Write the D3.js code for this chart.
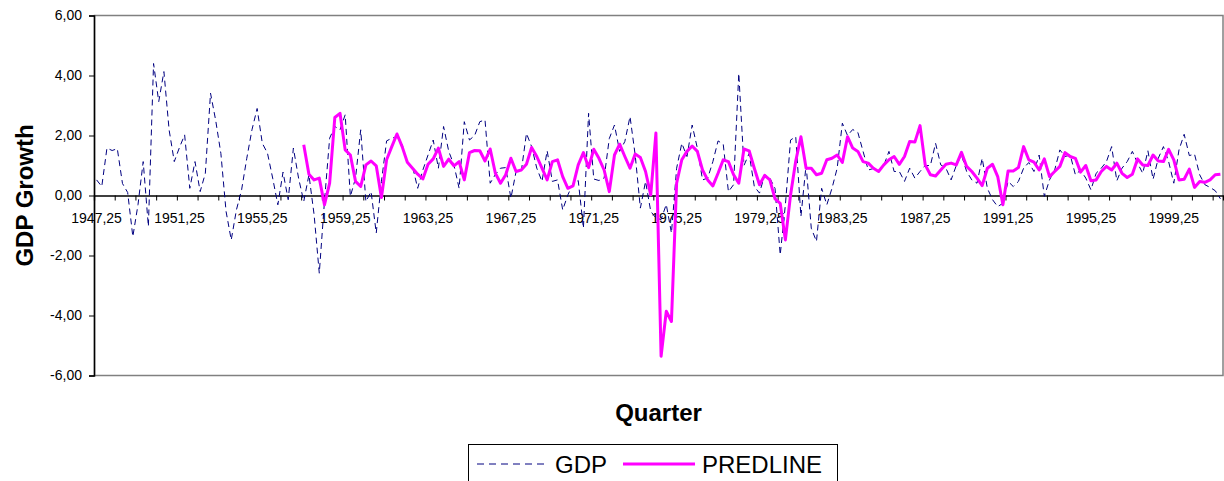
<!DOCTYPE html>
<html><head><meta charset="utf-8">
<script src="https://cdn.jsdelivr.net/npm/d3@7"></script>
<style>
body{margin:0;background:#fff;}
svg text{font-family:Arial,"Liberation Sans",sans-serif;}
</style>
</head><body>
<svg id="chart" width="1224" height="481"></svg>
<script>
// ---------------- data ----------------
const firstQuarter = 1947.25;
const quarterCount = 218;
const quarters = d3.range(quarterCount).map(i => (firstQuarter + i * 0.25).toFixed(2).replace('.', ','));
const xTickLabels = ["1947,25","1951,25","1955,25","1959,25","1963,25","1967,25","1971,25",
                     "1975,25","1979,25","1983,25","1987,25","1991,25","1995,25","1999,25"];
const yTickValues = [-6, -4, -2, 0, 2, 4, 6];
const seriesNames = ["GDP", "PREDLINE"];
const xTitle = "Quarter";
const yTitle = "GDP Growth";

const gdp = [
  0.52, 0.30, 1.58, 1.50, 1.56, 0.40, 0.10,-1.37,-0.30, 1.13,
 -1.03, 4.40, 3.13, 4.13, 2.19, 1.13, 1.60, 2.02, 0.24, 1.13,
  0.13, 0.74, 3.41, 2.50, 1.40,-0.53,-1.48,-0.48, 0.19, 1.24,
  2.19, 2.90, 1.74, 1.41, 0.58,-0.31, 0.78,-0.14, 1.58, 0.58,
 -0.20, 0.69,-0.64,-2.59,-0.20, 1.91, 2.30, 2.19, 2.69,-0.03,
  0.58, 2.19,-0.20, 0.13,-1.25, 0.47, 1.82, 1.91, 1.96, 1.69,
  1.11, 0.97, 0.24, 0.85, 1.35, 1.85, 0.91, 2.30, 1.47, 1.02,
  0.24, 2.46, 1.85, 2.00, 2.46, 2.52, 0.41, 0.70, 0.91, 0.93,
 -0.09, 0.80, 0.80, 2.07, 1.63, 0.91, 0.47, 1.49, 0.47, 0.52,
 -0.48, 0.02, 0.40, 0.50,-1.09, 2.74, 0.55, 0.50, 0.58, 1.90,
  2.35, 1.47, 1.80, 2.63, 1.35,-0.42, 0.47,-0.53,-0.75,-0.80,
 -0.30,-1.25, 0.91, 1.74, 1.30, 2.35, 1.58, 0.52, 0.58, 1.13,
  1.82, 1.71, 0.13, 0.36, 4.07, 1.00, 1.40, 0.30, 0.08, 0.69,
  0.58, 0.24,-1.98,-0.31, 1.85, 1.96,-0.70, 1.02,-1.09,-1.53,
  0.24,-0.31, 0.24, 0.91, 2.41, 2.00, 2.20, 2.10, 1.47, 0.85,
  0.90, 0.80, 1.00, 1.47, 0.80, 0.80, 0.47, 0.91, 0.58, 0.80,
  1.00, 1.00, 1.74, 1.02, 0.91, 0.52, 1.00, 1.35, 0.80, 0.52,
  0.41, 1.24, 0.24,-0.14,-0.37,-0.26, 0.47, 0.30, 0.47, 0.91,
  1.10, 0.80, 1.35,-0.03, 0.52, 0.85, 1.52, 1.30, 1.35, 0.69,
  0.85, 0.58, 0.19, 0.74, 0.91, 1.13, 1.63, 0.49, 0.91, 1.13,
  1.47, 1.08, 0.74, 1.49, 0.54, 1.24, 1.63, 1.13, 0.41, 1.52,
  2.04, 1.33, 1.38, 0.69, 0.36, 0.27, 0.16,-0.11
];

const predStartQuarter = "1957,25";
const predline = [
  1.69, 0.71, 0.52, 0.58,-0.31, 0.41, 2.60, 2.74, 1.52, 1.35,
  0.47, 0.30, 1.02, 1.15, 0.99,-0.07, 1.19, 1.63, 2.05, 1.63,
  1.11, 0.91, 0.71, 0.55, 1.04, 1.22, 1.58, 0.97, 1.21, 0.99,
  1.13, 0.52, 1.43, 1.50, 1.49, 1.15, 1.55, 0.74, 0.41, 0.69,
  1.24, 0.80, 0.85, 1.04, 1.60, 1.30, 0.91, 0.52, 1.13, 1.19,
  0.63, 0.24, 0.32, 1.02, 1.43, 0.93, 1.54, 1.24, 0.85, 0.13,
  1.35, 1.71, 1.30, 0.91, 1.38, 1.27, 0.80, 0.02, 2.08,-5.36,
 -3.86,-4.20, 0.41, 1.19, 1.47, 1.65, 1.47, 0.85, 0.52, 0.32,
  0.74, 1.19, 1.13, 0.69, 0.41, 1.55, 1.49, 0.91, 0.36, 0.67,
  0.52,-0.11,-0.26,-1.48, 0.02, 1.15, 1.96, 0.91, 0.91, 0.69,
  0.74, 1.19, 1.24, 1.35, 1.10, 1.96, 1.58, 1.47, 1.13, 1.08,
  0.91, 0.80, 1.02, 1.19, 1.30, 1.04, 1.30, 1.80, 1.78, 2.33,
  1.02, 0.69, 0.65, 0.85, 1.04, 1.08, 1.02, 1.44, 0.97, 0.80,
  0.58, 0.33, 0.91, 1.04, 0.63,-0.31, 0.82, 0.82, 0.93, 1.63,
  1.19, 1.11, 0.85, 1.22, 0.63, 0.80, 0.97, 1.43, 1.30, 1.24,
  0.78, 1.00, 0.49, 0.52, 0.80, 0.97, 0.85, 1.08, 0.74, 0.60,
  0.71, 1.22, 1.02, 1.00, 1.35, 1.15, 1.13, 1.54, 1.19, 0.52,
  0.54, 0.88, 0.27, 0.47, 0.44, 0.52, 0.69, 0.71
];

// ---------------- chart ----------------
const svg = d3.select("#chart");
const plot = {left: 94, right: 1223, top: 15.5, bottom: 375.5};

const x = d3.scaleBand().domain(quarters).range([plot.left, plot.right]).padding(0);
const xBound = d3.scaleLinear().domain([0, quarters.length]).range([plot.left, plot.right]);
const y = d3.scaleLinear().domain([-6, 6]).range([plot.bottom, plot.top]);
const cx = q => x(q) + x.bandwidth() / 2;

// plot area border
svg.append("rect")
  .attr("x", plot.left + 0.5).attr("y", plot.top)
  .attr("width", plot.right - plot.left - 0.5).attr("height", plot.bottom - plot.top)
  .attr("fill", "none").attr("stroke", "#808080").attr("stroke-width", 1.5);

// y axis
const yAxis = svg.append("g").attr("transform", `translate(${plot.left},0)`)
  .call(d3.axisLeft(y).tickValues(yTickValues).tickSize(5).tickPadding(7)
    .tickFormat(d => d.toFixed(2).replace('.', ',')));
yAxis.select(".domain").attr("stroke", "#000").attr("stroke-width", 1.5);
yAxis.selectAll(".tick line").attr("stroke", "#000");
yAxis.selectAll("text").attr("font-size", 14).attr("fill", "#000")
  .style("font-family", "Arial, 'Liberation Sans', sans-serif");

// x axis (crosses at 0)
const x0 = y(0);
const xAxisTicks = svg.append("g").attr("transform", `translate(0,${x0})`)
  .call(d3.axisBottom(xBound).tickValues(d3.range(0, quarters.length + 1, 4)).tickSize(5).tickFormat(""));
xAxisTicks.select(".domain").attr("stroke", "#000").attr("stroke-width", 1.3);
xAxisTicks.selectAll(".tick line").attr("stroke", "#000");

const xAxisLabels = svg.append("g").attr("transform", `translate(0,${x0})`)
  .call(d3.axisBottom(x).tickValues(xTickLabels).tickSize(0).tickPadding(0));
xAxisLabels.select(".domain").remove();
xAxisLabels.selectAll("text").attr("font-size", 14).attr("fill", "#000")
  .attr("y", 27).attr("dy", 0)
  .style("font-family", "Arial, 'Liberation Sans', sans-serif");

// series
const gdpLine = d3.line()
  .x((d, i) => cx(quarters[i]))
  .y(d => y(d));
svg.append("path").datum(gdp)
  .attr("d", gdpLine)
  .attr("fill", "none").attr("stroke", "#000080").attr("stroke-width", 1)
  .attr("stroke-dasharray", "6,4");

const predOffset = quarters.indexOf(predStartQuarter);
const predLineGen = d3.line()
  .x((d, i) => cx(quarters[i + predOffset]))
  .y(d => y(d));
svg.append("path").datum(predline)
  .attr("d", predLineGen)
  .attr("fill", "none").attr("stroke", "#FF00FF").attr("stroke-width", 3)
  .attr("stroke-linejoin", "round");

// axis titles
svg.append("text")
  .attr("x", (plot.left + plot.right) / 2).attr("y", 421)
  .attr("text-anchor", "middle").attr("font-size", 24).attr("font-weight", "bold")
  .text(xTitle);
svg.append("text")
  .attr("transform", `translate(33,${y(0)}) rotate(-90)`)
  .attr("text-anchor", "middle").attr("font-size", 24).attr("font-weight", "bold")
  .text(yTitle);

// legend
const lg = svg.append("g");
lg.append("rect").attr("x", 468.5).attr("y", 444.5).attr("width", 369).attr("height", 50)
  .attr("fill", "#fff").attr("stroke", "#000").attr("stroke-width", 1);
lg.append("line").attr("x1", 477).attr("x2", 547).attr("y1", 464).attr("y2", 464)
  .attr("stroke", "#000080").attr("stroke-width", 1).attr("stroke-dasharray", "7,5");
lg.append("text").attr("x", 555).attr("y", 473).attr("font-size", 24).text(seriesNames[0]);
lg.append("line").attr("x1", 623).attr("x2", 695).attr("y1", 464).attr("y2", 464)
  .attr("stroke", "#FF00FF").attr("stroke-width", 3);
lg.append("text").attr("x", 702).attr("y", 473).attr("font-size", 24).text(seriesNames[1]);
</script>
</body></html>
